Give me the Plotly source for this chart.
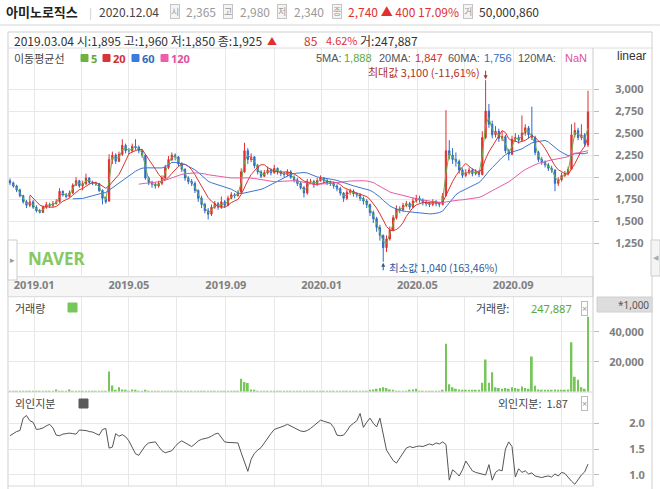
import plotly.graph_objects as go
import pandas as pd
import numpy as np

# ---------------- data (one candle ~ 3 trading days) ----------------
end_date = "2020-12-04"
opens = [1960,1935,1900,1855,1790,1720,1680,1720,1660,1620,
         1600,1660,1690,1680,1700,1720,1840,1800,1780,1820,
         1910,1960,1900,1925,1990,1940,1930,1925,1850,1760,
         1730,2200,2250,2180,2260,2360,2300,2300,2350,2340,
         2300,2250,1990,1940,1920,1900,1930,1990,2110,2200,
         2250,2230,2150,2090,1990,1950,1930,1850,1760,1690,
         1620,1580,1660,1700,1660,1720,1680,1760,1800,1790,
         1830,2060,2300,2200,2230,2130,2060,2010,2050,2080,
         2050,2100,2060,2040,2030,2060,2000,1970,1930,1880,
         1820,1950,1950,1920,1960,1990,1960,1940,1930,1900,
         1870,1820,1760,1830,1840,1810,1800,1760,1730,1690,
         1600,1530,1430,1340,1200,1300,1400,1540,1640,1630,
         1680,1700,1660,1730,1760,1740,1710,1700,1690,1720,
         1700,1690,1790,2300,2250,2200,2180,2080,2020,2050,
         2080,2040,2060,2030,2450,2750,2600,2480,2520,2440,
         2460,2300,2260,2430,2450,2420,2500,2560,2480,2450,
         2280,2200,2170,2140,2100,2080,1930,1970,2020,2040,
         2090,2480,2530,2450,2480,2365]
highs = [1985,1950,1915,1870,1800,1740,1790,1740,1680,1640,
         1680,1720,1710,1730,1750,1875,1850,1820,1850,1930,
         2000,1970,1960,2040,2000,1960,1950,1935,1860,1780,
         2260,2290,2270,2290,2430,2380,2330,2380,2430,2360,
         2320,2260,2010,1960,1940,1960,2020,2140,2240,2280,
         2270,2240,2170,2100,2010,1980,1950,1860,1790,1710,
         1650,1690,1730,1720,1780,1740,1790,1830,1820,1850,
         2100,2390,2330,2270,2240,2150,2080,2080,2120,2100,
         2140,2110,2080,2060,2090,2080,2020,1990,1950,1900,
         1980,1980,1970,1990,2020,2000,1980,1960,1950,1920,
         1890,1830,1860,1870,1860,1830,1820,1780,1750,1700,
         1620,1550,1460,1350,1340,1440,1570,1680,1670,1710,
         1730,1720,1770,1800,1790,1760,1740,1720,1750,1740,
         1720,1820,2760,2420,2330,2280,2200,2100,2090,2110,
         2100,2090,2080,2520,3100,2830,2640,2580,2550,2520,
         2480,2320,2470,2500,2480,2700,2600,2580,2800,2470,
         2300,2230,2190,2160,2130,2090,2000,2050,2070,2120,
         2600,2620,2560,2600,2500,2980]
lows = [1910,1880,1830,1770,1700,1650,1660,1640,1600,1590,
        1595,1640,1650,1660,1690,1710,1780,1760,1770,1810,
        1900,1880,1850,1910,1920,1910,1900,1830,1690,1700,
        1720,2150,2150,2170,2240,2270,2260,2280,2310,2270,
        2220,1970,1910,1880,1870,1880,1910,1980,2090,2180,
        2190,2120,2060,1960,1920,1900,1820,1720,1650,1590,
        1520,1560,1640,1630,1640,1650,1670,1750,1760,1780,
        1820,2050,2150,2170,2100,2030,1990,2000,2030,2020,
        2040,2030,2010,2000,2010,1980,1940,1900,1860,1770,
        1800,1920,1880,1900,1950,1930,1910,1900,1870,1840,
        1790,1720,1740,1800,1780,1770,1730,1690,1650,1560,
        1480,1380,1280,1040,1150,1280,1390,1520,1590,1610,
        1660,1630,1650,1710,1710,1680,1670,1660,1670,1670,
        1660,1680,1780,2200,2150,2120,2040,1990,2000,2030,
        2010,2020,2000,2020,2430,2560,2440,2450,2400,2410,
        2270,2190,2250,2400,2380,2400,2470,2440,2420,2250,
        2170,2140,2110,2070,2050,1840,1900,1950,2000,2020,
        2080,2450,2420,2420,2340,2340]
closes = [1935,1900,1855,1790,1720,1680,1720,1660,1620,1600,
          1660,1690,1680,1700,1720,1840,1800,1780,1820,1910,
          1960,1900,1925,1990,1940,1930,1925,1850,1760,1720,
          2200,2250,2180,2260,2360,2300,2300,2350,2340,2300,
          2250,1990,1940,1920,1900,1930,1990,2110,2200,2250,
          2230,2150,2090,1990,1950,1930,1850,1760,1690,1620,
          1580,1660,1700,1660,1720,1680,1760,1800,1790,1820,
          2060,2300,2200,2230,2130,2060,2010,2050,2080,2050,
          2100,2060,2040,2030,2060,2000,1970,1930,1880,1820,
          1950,1950,1920,1960,1990,1960,1940,1930,1900,1870,
          1820,1760,1830,1840,1810,1800,1760,1730,1690,1600,
          1530,1430,1340,1200,1300,1400,1540,1640,1630,1680,
          1700,1660,1730,1760,1740,1710,1700,1690,1720,1700,
          1690,1790,2300,2250,2200,2180,2080,2020,2050,2080,
          2040,2060,2030,2450,2750,2600,2480,2520,2440,2460,
          2300,2260,2430,2450,2420,2500,2560,2480,2450,2280,
          2200,2170,2140,2100,2080,1930,1970,2020,2040,2090,
          2480,2530,2450,2480,2380,2740]
volume_k = [300,250,250,300,350,300,400,300,250,250,300,350,300,300,
            1500,500,400,300,1500,
            400,500,350,248,400,350,300,300,350,400,500,
            13500,4200,1200,3000,1500,800,600,1500,700,500,
            400,800,500,400,300,300,400,500,400,350,300,300,300,300,250,
            250,300,350,300,400,500,400,300,300,300,250,250,300,350,400,
            8700,6500,5800,1500,800,
            600,500,500,400,400,350,350,300,300,300,300,300,250,300,400,
            400,300,300,300,300,250,250,250,250,300,300,400,300,300,300,
            300,300,400,500,700,
            1500,2000,2500,3000,2500,1500,
            800,600,500,500,600,700,1500,2000,600,500,500,400,400,500,600,1200,
            32000,5000,3000,2000,1500,1000,900,800,700,800,900,
            6000,21500,6000,13000,3000,2500,2000,2500,2000,3000,2500,2000,3500,2500,2000,
            23500,4000,1500,1200,1000,900,800,1500,1000,800,700,1500,
            33000,10000,8000,3000,2000,50000]
foreign_pct = [1.76,1.80,1.84,1.86,2.10,2.15,2.05,2.02,1.88,1.89,
               1.91,1.95,1.98,1.91,1.77,1.76,1.79,1.80,1.81,1.80,
               1.79,1.87,1.87,1.86,1.84,1.83,1.80,1.77,1.88,1.90,
               1.52,1.54,1.80,1.75,1.78,1.74,1.66,1.52,1.41,1.38,
               1.47,1.57,1.62,1.63,1.64,1.55,1.47,1.43,1.45,1.47,
               1.55,1.62,1.66,1.62,1.58,1.55,1.60,1.66,1.69,1.70,
               1.72,1.75,1.79,1.81,1.72,1.64,1.63,1.63,1.62,1.62,
               1.43,1.25,1.07,1.30,1.42,1.48,1.53,1.62,1.72,1.80,
               1.88,1.90,1.93,1.95,1.98,1.95,1.91,1.88,1.85,1.84,
               1.86,1.90,1.95,2.00,2.06,2.04,2.02,2.00,1.92,1.77,
               1.76,1.77,1.85,1.95,2.00,2.05,2.19,1.92,2.02,2.10,
               2.00,1.93,2.10,1.80,1.48,1.38,1.28,1.23,1.33,1.42,
               1.52,1.55,1.53,1.55,1.56,1.55,1.58,1.60,1.58,1.62,
               1.60,1.64,1.59,0.90,1.10,1.05,0.98,1.10,1.27,1.18,
               1.08,1.05,1.03,1.02,1.00,1.20,0.90,1.05,1.10,1.08,
               1.50,1.64,1.55,0.96,1.12,1.05,1.08,1.02,1.04,0.98,
               0.96,0.95,0.97,0.98,0.96,1.02,0.98,1.05,1.03,0.95,
               0.88,0.82,0.92,1.00,1.06,1.21]
ma_windows = [2, 7, 20, 40]   # 5/20/60/120 trading days in 3-day candles
tick_months = ["2019-01", "2019-03", "2019-05", "2019-07", "2019-09", "2019-11",
               "2020-01", "2020-03", "2020-05", "2020-07", "2020-09", "2020-11"]
tick_labels = ["2019.01", "", "2019.05", "", "2019.09", "",
               "2020.01", "", "2020.05", "", "2020.09", ""]
price_ticks = [1250, 1500, 1750, 2000, 2250, 2500, 2750, 3000]
vol_ticks = [20000, 40000]
foreign_ticks = [1.0, 1.5, 2.0]

N = len(closes)
assert len(opens) == N and len(highs) == N and len(lows) == N
assert len(volume_k) == N and len(foreign_pct) == N

dates = pd.bdate_range(end=end_date, periods=N, freq="3B")
xs = np.arange(N)
bdays = pd.bdate_range(dates[0], dates[-1])
tick_pos = []
for m in tick_months:
    first = bdays[bdays >= pd.Timestamp(m + "-01")][0]
    tick_pos.append(bdays.get_loc(first) / 3.0)

close_s = pd.Series(closes, dtype=float)
mas = [close_s.rolling(w).mean() for w in ma_windows]

# ---------------- styling ----------------
W, H = 660, 489
def px(x): return x / W
def py(y): return 1 - y / H

RED, BLUE = "#e0302f", "#2e6bcc"
MA_COLORS = ["#6ab04c", "#d9342b", "#3a76d0", "#e65aa6"]
GRID = "#e8e8e8"
KR = "Noto Sans CJK KR"
LAT = "Noto Sans"
ARIAL = "Liberation Sans"

fig = go.Figure()

fig.add_trace(go.Candlestick(
    x=xs, open=opens, high=highs, low=lows, close=closes,
    customdata=[d.strftime("%Y.%m.%d") for d in dates],
    increasing=dict(line=dict(color=RED, width=1), fillcolor=RED),
    decreasing=dict(line=dict(color=BLUE, width=1), fillcolor=BLUE),
    whiskerwidth=0, showlegend=False, xaxis="x", yaxis="y"))
for ma, col in zip(mas, MA_COLORS):
    fig.add_trace(go.Scatter(x=xs, y=ma, mode="lines", line=dict(color=col, width=1),
                             showlegend=False, hoverinfo="skip", xaxis="x", yaxis="y"))
fig.add_trace(go.Bar(x=xs, y=volume_k, marker=dict(color="#76c65a", line=dict(width=0)),
                     showlegend=False, xaxis="x2", yaxis="y2"))
fig.add_trace(go.Scatter(x=xs, y=foreign_pct, mode="lines", line=dict(color="#555555", width=1),
                         showlegend=False, xaxis="x3", yaxis="y3"))

x_left, x_right = 8, 593
first_px, last_px = 10, 588
ppc = (last_px - first_px) / (N - 1)
xr = [-(first_px - x_left) / ppc, (N - 1) + (x_right - last_px) / ppc]

xcommon = dict(domain=[px(x_left), px(x_right)], range=xr, showgrid=True, gridcolor=GRID,
               gridwidth=1, zeroline=False, tickvals=tick_pos, ticks="", showline=False,
               fixedrange=True)
tickfont_ax = dict(family=LAT, size=11, color="#808080", weight="bold")
ycommon = dict(side="right", showgrid=True, gridcolor=GRID, zeroline=False, ticks="outside",
               ticklen=5, tickcolor="#bbbbbb", showline=False, tickfont=tickfont_ax,
               fixedrange=True)

fig.update_layout(
    width=W, height=H, margin=dict(l=0, r=0, t=0, b=0),
    paper_bgcolor="white", plot_bgcolor="white",
    boxgap=0.45, bargap=0.45, showlegend=False,
    xaxis=dict(**xcommon, ticktext=tick_labels, showticklabels=True, tickfont=tickfont_ax,
               rangeslider=dict(visible=False), anchor="y"),
    xaxis2=dict(**xcommon, showticklabels=False, matches="x", anchor="y2"),
    xaxis3=dict(**xcommon, showticklabels=False, matches="x", anchor="y3"),
    yaxis=dict(**ycommon, domain=[py(276.7), py(48)], range=[871, 3465],
               tickvals=price_ticks, tickformat=",d", ticklabelstandoff=14, anchor="x"),
    yaxis2=dict(**ycommon, domain=[py(392), py(296.7)], range=[-200, 63333],
                tickvals=vol_ticks, tickformat=",d", ticklabelstandoff=8, anchor="x2"),
    yaxis3=dict(**ycommon, domain=[py(486), py(392)], range=[0.787, 2.605],
                tickvals=foreign_ticks, tickformat=".1f", ticklabelstandoff=28, anchor="x3"),
)

# ---------------- frame shapes ----------------
shapes = []
def line(x0, y0, x1, y1, color="#d0d0d0", w=1):
    shapes.append(dict(type="line", xref="paper", yref="paper", x0=px(x0), y0=py(y0),
                       x1=px(x1), y1=py(y1), line=dict(color=color, width=w)))
def rect(x0, y0, x1, y1, fill=None, color="#d0d0d0", w=1, layer="above"):
    shapes.append(dict(type="rect", xref="paper", yref="paper", x0=px(x0), y0=py(y0),
                       x1=px(x1), y1=py(y1), fillcolor=fill or "rgba(0,0,0,0)",
                       line=dict(color=color, width=w), layer=layer))

line(0, 25, 660, 25, "#d5d5d5")
rect(8, 32, 652, 490, color="#cfcfcf", layer="below")
line(8, 48, 652, 48, "#dcdcdc")
rect(8, 276.7, 593, 296.7, fill="#f6f6f6", color="#d8d8d8", layer="below")
line(8, 392, 593, 392, "#d8d8d8")
line(8, 486, 593, 486, "#d8d8d8")
line(593, 48, 593, 486, "#cccccc")
rect(597, 297, 652, 312, fill="#dddddd", color="#d0d0d0", layer="below")
# legend colour squares
for (x0, col) in [(81, "#6db33f"), (103, "#d63636"), (132, "#3b7ddd"), (161, "#ef5ca8")]:
    rect(x0, 54.5, x0 + 7, 61.5, fill=col, color=col)
rect(68, 303, 77, 312, fill="#76c65a", color="#76c65a")
rect(79, 399, 88, 408, fill="#5a5a5a", color="#5a5a5a")
# side tabs
rect(8, 240, 17, 280, fill="white", color="#cccccc")
rect(651, 240, 660, 276, fill="#f4f4f4", color="#cccccc")
fig.update_layout(shapes=shapes)

# ---------------- texts ----------------
def txt(x, y, s, color="#333", size=11, bold=False, anchor="left", family=KR, **kw):
    fig.add_annotation(x=px(x), y=py(y), xref="paper", yref="paper", text=s, showarrow=False,
                       xanchor=anchor, yanchor="middle", borderpad=0,
                       font=dict(family=family, size=size, color=color,
                                 weight="bold" if bold else "normal"), **kw)

def icon(x, y, ch):
    fig.add_annotation(x=px(x), y=py(y), xref="paper", yref="paper", text=ch, showarrow=False,
                       xanchor="left", yanchor="middle",
                       font=dict(family=KR, size=9, color="#9a9a9a"),
                       bordercolor="#c4c4c4", borderwidth=1, borderpad=0, bgcolor="#f4f4f4")

# header
txt(5, 12, "아미노로직스", "#222", 13, bold=True)
txt(88, 12, "|", "#c8c8c8", 11)
txt(98, 12, "2020.12.04", "#444", 12)
for xi, ch in [(170, "시"), (223, "고"), (277, "저"), (332, "종"), (463, "거")]:
    icon(xi, 12, ch)
txt(185, 12, "2,365", "#9a9a9a", 12)
txt(239, 12, "2,980", "#9a9a9a", 12)
txt(293, 12, "2,340", "#9a9a9a", 12)
txt(347, 12, "2,740 ▲ 400 17.09%", "#e0302f", 12)
txt(478, 12, "50,000,860", "#333", 12)

# info row
txt(13, 40, "2019.03.04 시:1,895 고:1,960 저:1,850 종:1,925", "#333", 12)
txt(266, 40, "▲", "#e0302f", 10)
txt(303, 40, "85", "#e0302f", 12)
txt(325, 40, "4.62%", "#e0302f", 11)
txt(359, 40, "거:247,887", "#333", 12)

# MA legend
txt(13, 58, "이동평균선", "#444", 11)
txt(90, 58, "5", "#5fa63a", 11, bold=True, family=LAT)
txt(112, 58, "20", "#d03030", 11, bold=True, family=LAT)
txt(141, 58, "60", "#2f6cc0", 11, bold=True, family=LAT)
txt(170, 58, "120", "#e0509c", 11, bold=True, family=LAT)
for xx, s, col in [(315, "5MA:", "#555"), (343, "1,888", "#5fa63a"),
                   (378, "20MA:", "#555"), (414, "1,847", "#d03030"),
                   (447, "60MA:", "#555"), (483, "1,756", "#2f6cc0"),
                   (517, "120MA:", "#555"), (564, "NaN", "#e0509c")]:
    txt(xx, 58, s, col, 11, family=ARIAL)
txt(616, 56, "linear", "#333", 12, family=ARIAL)

# volume / foreign legends
txt(14, 308, "거래량", "#444", 11)
txt(475, 308, "거래량:", "#444", 11)
txt(530, 308, "247,887", "#5aa832", 11, family=LAT)
txt(14, 403, "외인지분", "#444", 11)
txt(497, 403, "외인지분:  1.87", "#444", 11)
for yy in (308, 403):
    fig.add_annotation(x=px(584.5), y=py(yy), xref="paper", yref="paper", text="×",
                       showarrow=False, xanchor="center", yanchor="middle",
                       font=dict(family=LAT, size=9, color="#999"),
                       bordercolor="#bbbbbb", borderwidth=1, borderpad=0)
txt(650, 304.5, "*1,000", "#555", 10, anchor="right", family=LAT)

# watermark & tabs
txt(27, 258, "NAVER", "#86c864", 17, bold=True, family=LAT)
txt(12.5, 260, "▸", "#999", 9, anchor="center", family="DejaVu Sans")
txt(655.5, 258, "◀", "#aaa", 7, anchor="center", family="DejaVu Sans")

# max / min markers (positioned from the data)
k_max = int(np.argmax(highs))
k_min = int(np.argmin(lows))
last_close = closes[-1]
max_txt = f"최대값 {highs[k_max]:,} ({(last_close - highs[k_max]) / highs[k_max] * 100:.2f}%)"
min_txt = f"최소값 {lows[k_min]:,} ({(last_close - lows[k_min]) / lows[k_min] * 100:.2f}%)"
max_txt = max_txt.replace(".", ",")
min_txt = min_txt.replace(".", ",")
fig.add_annotation(x=k_max, y=highs[k_max], xref="x", yref="y", text="", showarrow=True,
                   ax=0, ay=-11, arrowhead=2, arrowsize=0.8, arrowwidth=1, arrowcolor="#b03028",
                   standoff=1)
fig.add_annotation(x=k_max, y=highs[k_max], xref="x", yref="y", text=max_txt, showarrow=False,
                   xanchor="right", yanchor="middle", xshift=-5, yshift=8, borderpad=0,
                   font=dict(family=KR, size=11, color="#b03028"))
fig.add_annotation(x=k_min, y=lows[k_min], xref="x", yref="y", text="", showarrow=True,
                   ax=0, ay=10, arrowhead=2, arrowsize=0.8, arrowwidth=1, arrowcolor="#2a5aa0",
                   standoff=1)
fig.add_annotation(x=k_min, y=lows[k_min], xref="x", yref="y", text=min_txt, showarrow=False,
                   xanchor="left", yanchor="middle", xshift=5, yshift=-6, borderpad=0,
                   font=dict(family=KR, size=10.5, color="#2a5aa0"))

fig.write_html("out.html", config={"displayModeBar": False})
